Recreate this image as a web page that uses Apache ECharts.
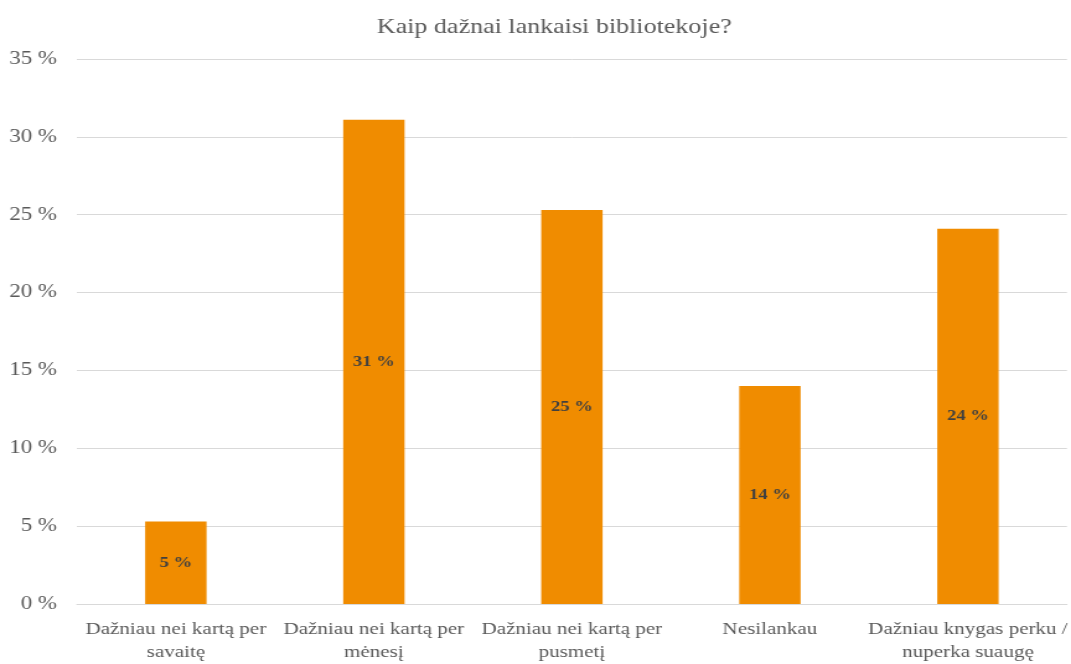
<!DOCTYPE html>
<html><head><meta charset="utf-8">
<script src="https://cdn.jsdelivr.net/npm/echarts@6/dist/echarts.min.js"></script>
<style>
html,body{margin:0;padding:0;background:#fff;overflow:hidden}
#wrap{width:1071px;height:664px;overflow:hidden}
#c{width:864px;height:664px;transform:scale(1.2396,1);transform-origin:0 0}
</style>
</head><body><div id="wrap"><div id="c"></div></div>
<script>
const title = 'Kaip dažnai lankaisi bibliotekoje?';
const categories = ['Dažniau nei kartą per\nsavaitę', 'Dažniau nei kartą per\nmėnesį', 'Dažniau nei kartą per\npusmetį', 'Nesilankau', 'Dažniau knygas perku /\nnuperka suaugę'];
const values = [5.3, 31.1, 25.3, 14.0, 24.1];
const yTicks = [0, 5, 10, 15, 20, 25, 30, 35];

const serif = '"Liberation Serif", "DejaVu Serif", serif';
const chart = echarts.init(document.getElementById('c'));
chart.setOption({
  animation: false,
  title: { text: title, left: 299, top: 12, textStyle: { fontFamily: serif, fontSize: 21, fontWeight: 'normal', color: '#595959' } },
  grid: { left: 62, right: 0, top: 59, bottom: 58, containLabel: false },
  xAxis: {
    type: 'category', data: categories,
    axisLine: { show: true, lineStyle: { color: '#d9d9d9' } },
    axisTick: { show: false },
    axisLabel: { fontFamily: serif, fontSize: 17, color: '#595959', margin: 14, lineHeight: 23, interval: 0 }
  },
  yAxis: {
    type: 'value', min: yTicks[0], max: yTicks[yTicks.length - 1], interval: 5,
    axisLine: { show: false }, axisTick: { show: false },
    splitLine: { lineStyle: { color: '#d9d9d9' } },
    axisLabel: { fontFamily: serif, fontSize: 18.5, color: '#595959', margin: 16, formatter: v => v + ' %' }
  },
  series: [{
    type: 'bar', data: values, barWidth: '31%',
    itemStyle: { color: '#F08C00' },
    label: { show: true, position: 'inside', fontFamily: serif, fontSize: 15, fontWeight: 'bold', color: '#404040',
      formatter: p => Math.round(p.value) + ' %' }
  }]
});
</script></body></html>
